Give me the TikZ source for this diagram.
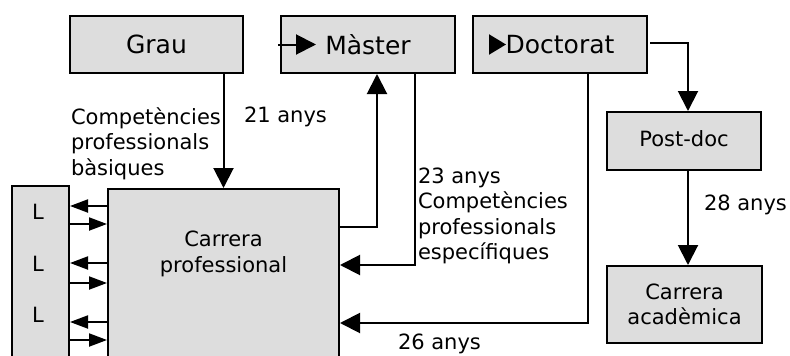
\documentclass[tikz,border=0pt]{standalone}
\usepackage{fontspec}
\setmainfont{DejaVu Sans}
\usetikzlibrary{%
    arrows.meta,
    calc,
    positioning
}
\definecolor{boxgray}{HTML}{DDDDDD}
\newcommand{\bigtext}{\fontsize{25}{30}\selectfont}
\newcommand{\smalltext}{\fontsize{21}{25.5}\selectfont}
\tikzset{headarrow/.style = {-{Triangle[length=20pt,width=20pt]}}}
\tikzset{sidearrow/.style = {-{Triangle[length=18pt,width=13pt]}}}
\tikzset{stage/.style = {draw, fill=boxgray, line width=2pt, inner sep=0pt}}
\tikzset{note/.style = {inner sep=0pt, font=\smalltext, align=left}}

\begin{document}
\begin{tikzpicture}[x=1pt, y=-1pt, line width=2pt]
    \clip (0,0) rectangle (790,356);

    % study stages
    \node[stage, minimum width=173, minimum height=57, font=\bigtext] (Grau) at (156.5,44.5) {Grau};
    \node[stage, minimum width=174, minimum height=57, font=\bigtext] (Master) at (368,44.5) {Màster};
    \node[stage, minimum width=174, minimum height=57, font=\bigtext] (Doctorat) at (560,44.5) {Doctorat};
    \node[stage, minimum width=154, minimum height=58, font=\smalltext, text depth=4pt] (Postdoc) at (684,141) {Post-doc};
    \node[stage, minimum width=155, minimum height=77, font=\smalltext, align=center] (Academica) at (684.5,304.5) {Carrera\\acadèmica};

    % professional career and the L column
    \node[stage, minimum width=231, minimum height=220] (Prof) at (223.5,299) {};
    \node[font=\smalltext, align=center, inner sep=0pt] (ProfText) at (223.5,254) {Carrera\\professional};
    \node[stage, minimum width=57, minimum height=220] (Lbox) at (40.5,296) {};
    \foreach \Y [count=\i] in {219,271,322}
        \node[font=\smalltext, inner sep=0pt, anchor=base] (L\i) at (38,\Y) {L};

    % labels
    \node[note, anchor=north west] (BasicSkills) at (70,106.5) {Competències\\professionals\\bàsiques};
    \node[note, anchor=base west] (Age21) at (243,122) {21 anys};
    \node[note, anchor=north west] (SpecSkills) at (417,166.5) {23 anys\\Competències\\professionals\\específiques};
    \node[note, anchor=base west] (Age26) at (397,349) {26 anys};
    \node[note, anchor=base west] (Age28) at (703,210) {28 anys};

    % edges
    \draw[headarrow] (Grau.south -| Prof.north) -- (Prof.north);
    \draw[headarrow] (Prof.east |- 0,227) -| ($(Master.south)+(9,0)$);
    \draw[headarrow] ($(Master.south)+(47,0)$) |- (Prof.east |- 0,265);
    \draw[headarrow] ($(Doctorat.south)+(28,0)$) |- (Prof.east |- 0,323);
    \draw[headarrow] ($(Doctorat.east)+(2,-2)$) -| ($(Postdoc.north)+(4,0)$);
    \draw[headarrow] ($(Postdoc.south)+(4,0)$) -- ($(Academica.north)+(3.5,0)$);

    % arrows inside the top boxes
    \draw[headarrow] ($(Master.west)+(-2,0)$) -- ($(Master.west)+(36,0)$);
    \draw[-{Triangle[length=17pt,width=20pt]}] ($(Doctorat.west)+(17,0)$) -- ($(Doctorat.west)+(34,0)$);

    % links to the L column
    \foreach \Y in {206,263,322}
        \draw[sidearrow] (Prof.west |- 0,\Y) -- (Lbox.east |- 0,\Y);
    \foreach \Y in {224,283,340}
        \draw[sidearrow] (Lbox.east |- 0,\Y) -- (Prof.west |- 0,\Y);
\end{tikzpicture}
\end{document}
